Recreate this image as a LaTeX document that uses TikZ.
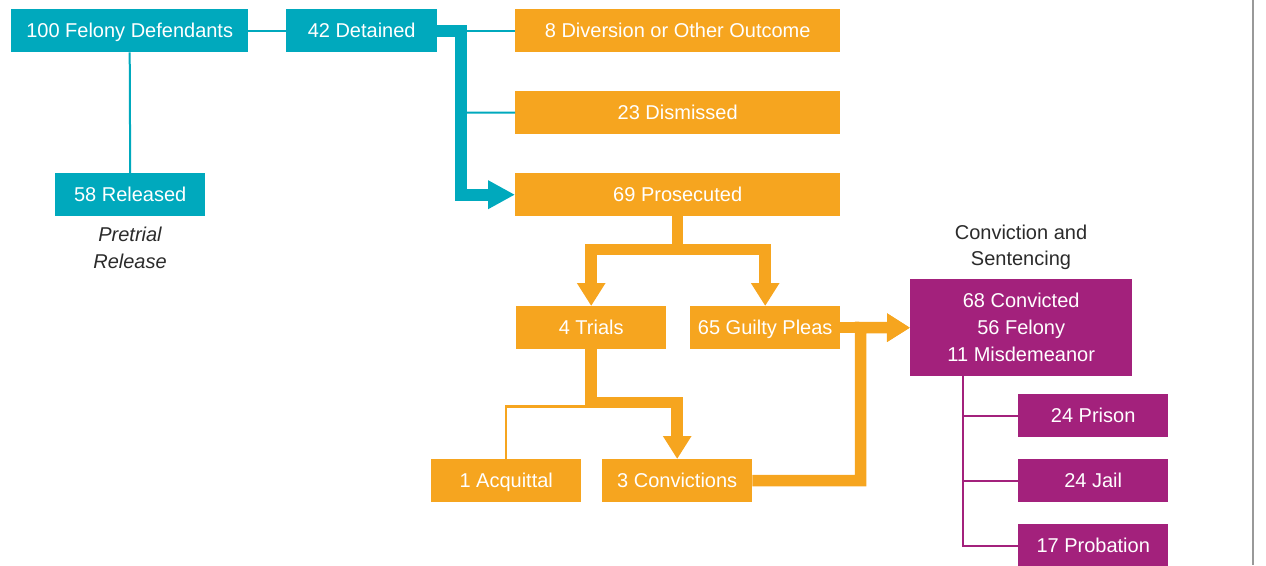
\documentclass[tikz,border=0pt]{standalone}
\usepackage{fontspec}
\setmainfont{Liberation Sans}
\usetikzlibrary{arrows.meta}
\definecolor{cteal}{HTML}{00A9BD}
\definecolor{corange}{HTML}{F6A51F}
\definecolor{cmag}{HTML}{A3217C}
\definecolor{cdark}{HTML}{2B2B2B}
\tikzset{
  box/.style={anchor=north west, inner sep=0pt, text=white, font=\fontsize{20}{24}\selectfont, minimum height=43pt, text height=18.5pt, text depth=4pt},
  tealbox/.style={box, fill=cteal},
  orbox/.style={box, fill=corange},
  magbox/.style={box, fill=cmag},
  tealline/.style={draw=cteal, line width=2pt},
  tealbar/.style={draw=cteal, line width=12pt, line join=miter, -{Triangle[length=27pt,width=27pt]}},
  orline/.style={draw=corange, line width=2.5pt},
  orbar/.style={draw=corange, line width=11.5pt, line join=miter},
  orarrow/.style={orbar, -{Triangle[length=23pt,width=27pt]}},
  magline/.style={draw=cmag, line width=2pt},
  caption/.style={text=cdark, font=\fontsize{20}{26}\selectfont, align=center, inner sep=0pt}
}
\begin{document}
\begin{tikzpicture}[x=1pt,y=1pt]
\useasboundingbox (0,0) rectangle (1266,-565);
% frame line at right
\coordinate (gtop) at (1253,0);
\coordinate (gbot) at (1253,-565);
\draw[draw=gray!80, line width=1.5pt] (gtop) -- (gbot);

% teal nodes
\node[tealbox, minimum width=237pt] (fel) at (11,-9) {100 Felony Defendants};
\node[tealbox, minimum width=151pt] (det) at (286,-9) {42 Detained};
\node[tealbox, minimum width=150pt] (rel) at (55,-173) {58 Released};
\node[caption, font=\fontsize{20}{27}\selectfont\itshape, anchor=north] (pre) at (130,-227) {Pretrial\\Release};

% orange nodes
\node[orbox, minimum width=325pt] (div) at (515,-9) {8 Diversion or Other Outcome};
\node[orbox, minimum width=325pt] (dis) at (515,-91) {23 Dismissed};
\node[orbox, minimum width=325pt] (pros) at (515,-173) {69 Prosecuted};
\node[orbox, minimum width=150pt] (tri) at (516,-306) {4 Trials};
\node[orbox, minimum width=150pt] (gui) at (690,-306) {65 Guilty Pleas};
\node[orbox, minimum width=150pt] (acq) at (431,-459) {1 Acquittal};
\node[orbox, minimum width=150pt] (con) at (602,-459) {3 Convictions};

% magenta nodes
\node[caption, anchor=north] (cas) at (1021,-225) {Conviction and\\Sentencing};
\node[magbox, minimum width=222pt, minimum height=97pt, text height=, text depth=, align=center, font=\fontsize{20}{27}\selectfont] (mag) at (910,-279) {68 Convicted\\56 Felony\\11 Misdemeanor};
\node[magbox, minimum width=150pt] (pri) at (1018,-394) {24 Prison};
\node[magbox, minimum width=150pt] (jai) at (1018,-459) {24 Jail};
\node[magbox, minimum width=150pt] (prb) at (1018,-524) {17 Probation};

% teal connectors
\draw[tealline] (fel) -- (det);
\draw[tealline] (fel.south) -- (rel.north);
\draw[tealline] (det.east) -- (div.west);
\coordinate (tj) at (461,-112.5);
\draw[tealline] (tj) -- (dis.west);
\draw[tealbar] (det.east) -- ++(24,0) |- (pros.west);

% orange connectors
\coordinate (psplit) at ([yshift=-33pt]pros.south);
\draw[orarrow] (pros.south) -- (psplit) -| (tri.north);
\draw[orarrow] (pros.south) -- (psplit) -| (gui.north);
\coordinate (tsplit) at ([yshift=-53pt]tri.south);
\draw[orarrow] (tri.south) -- (tsplit) -| (con.north);
\coordinate (aj) at ([yshift=-57pt]tri.south);
\draw[orline] (aj) -| (acq.north);
\coordinate (cup) at (860.5,-327.5);
\draw[orarrow] (con.east) -| (cup) -- (mag.west);
\draw[orarrow] (gui.east) -- (mag.west);

% magenta connectors
\coordinate (mt) at (963,-376);
\draw[magline] (mt) |- (prb.west);
\draw[magline] (mt |- pri.west) -- (pri.west);
\draw[magline] (mt |- jai.west) -- (jai.west);
\end{tikzpicture}
\end{document}
